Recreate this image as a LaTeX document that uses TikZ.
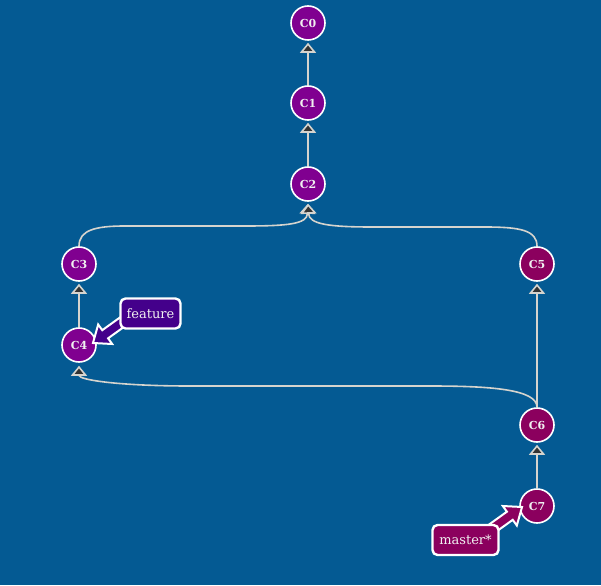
\documentclass[tikz,border=0pt]{standalone}
\usepackage{fontspec}
\setmainfont{DejaVu Serif}
\usetikzlibrary{arrows.meta}
\definecolor{bg}{HTML}{045A93}
\definecolor{cpurple}{HTML}{800090}
\definecolor{cmag}{HTML}{8B005E}
\definecolor{cindigo}{HTML}{44008B}
\definecolor{edgec}{HTML}{D6D4CE}
\definecolor{tipfill}{HTML}{333333}
\definecolor{txt}{HTML}{F0F0F0}
\tikzset{
  commit/.style={circle, draw=white, line width=1.6pt, minimum size=34pt, inner sep=0pt,
    font=\bfseries\fontsize{11}{13}\selectfont, text=txt},
  parent/.style={draw=edgec, line width=1.6pt,
    -{Triangle[width=16pt,length=10pt,fill=tipfill]}, shorten >=2pt},
  branchlbl/.style={draw=white, line width=2.4pt, rounded corners=5pt, inner sep=0pt,
    minimum height=30pt, font=\fontsize{13}{15}\selectfont, text=txt},
  pointer/.style={draw=white, line width=2pt, line join=miter}
}
\begin{document}
\begin{tikzpicture}[x=1pt,y=-1pt]
\fill[bg] (0,0) rectangle (601,585);
\useasboundingbox (0,0) rectangle (601,585);

% commits
\node[commit, fill=cpurple] (C0) at (308,23) {C0};
\node[commit, fill=cpurple] (C1) at (308,103) {C1};
\node[commit, fill=cpurple] (C2) at (308,184) {C2};
\node[commit, fill=cpurple] (C3) at (79,264) {C3};
\node[commit, fill=cmag] (C5) at (537,264) {C5};
\node[commit, fill=cpurple] (C4) at (79,345) {C4};
\node[commit, fill=cmag] (C6) at (537,425) {C6};
\node[commit, fill=cmag] (C7) at (537,506) {C7};

% parent links
\draw[parent] (C1) -- (C0);
\draw[parent] (C2) -- (C1);
\draw[parent] (C4) -- (C3);
\draw[parent] (C6) -- (C5);
\draw[parent] (C7) -- (C6);
\draw[parent] (C3.north) .. controls +(0,-16) and (95,226) .. (125,226) -- (245,226)
  .. controls (288,226) and (307,224) .. (C2.south);
\draw[parent] (C5.north) .. controls +(0,-16) and (520,227) .. (485,227) -- (372,227)
  .. controls (328,227) and (309,224) .. (C2.south);
\draw[parent, shorten >=3pt] (C6.north) .. controls +(0,-18) and (490,386) .. (430,386) -- (190,386)
  .. controls (120,386) and (79,380) .. (C4.south);

% branch pointers
\coordinate (ftip) at (93,343);
\coordinate (mtip) at (522,507);
\begin{scope}[shift={(ftip)}, rotate=215.7]
  \path[pointer, fill=cindigo] (0,0) -- (-15,12) -- (-15,5) -- (-48,5) -- (-48,-5)
    -- (-15,-5) -- (-15,-12) -- cycle;
\end{scope}
\begin{scope}[shift={(mtip)}, rotate=35.7]
  \path[pointer, fill=cmag] (0,0) -- (-15,12) -- (-15,5) -- (-48,5) -- (-48,-5)
    -- (-15,-5) -- (-15,-12) -- cycle;
\end{scope}

% branch labels
\node[branchlbl, fill=cindigo, minimum width=60pt] (feature) at (150.5,313.5) {feature};
\node[branchlbl, fill=cmag, minimum width=66pt] (master) at (465.5,540) {master*};
\end{tikzpicture}
\end{document}
